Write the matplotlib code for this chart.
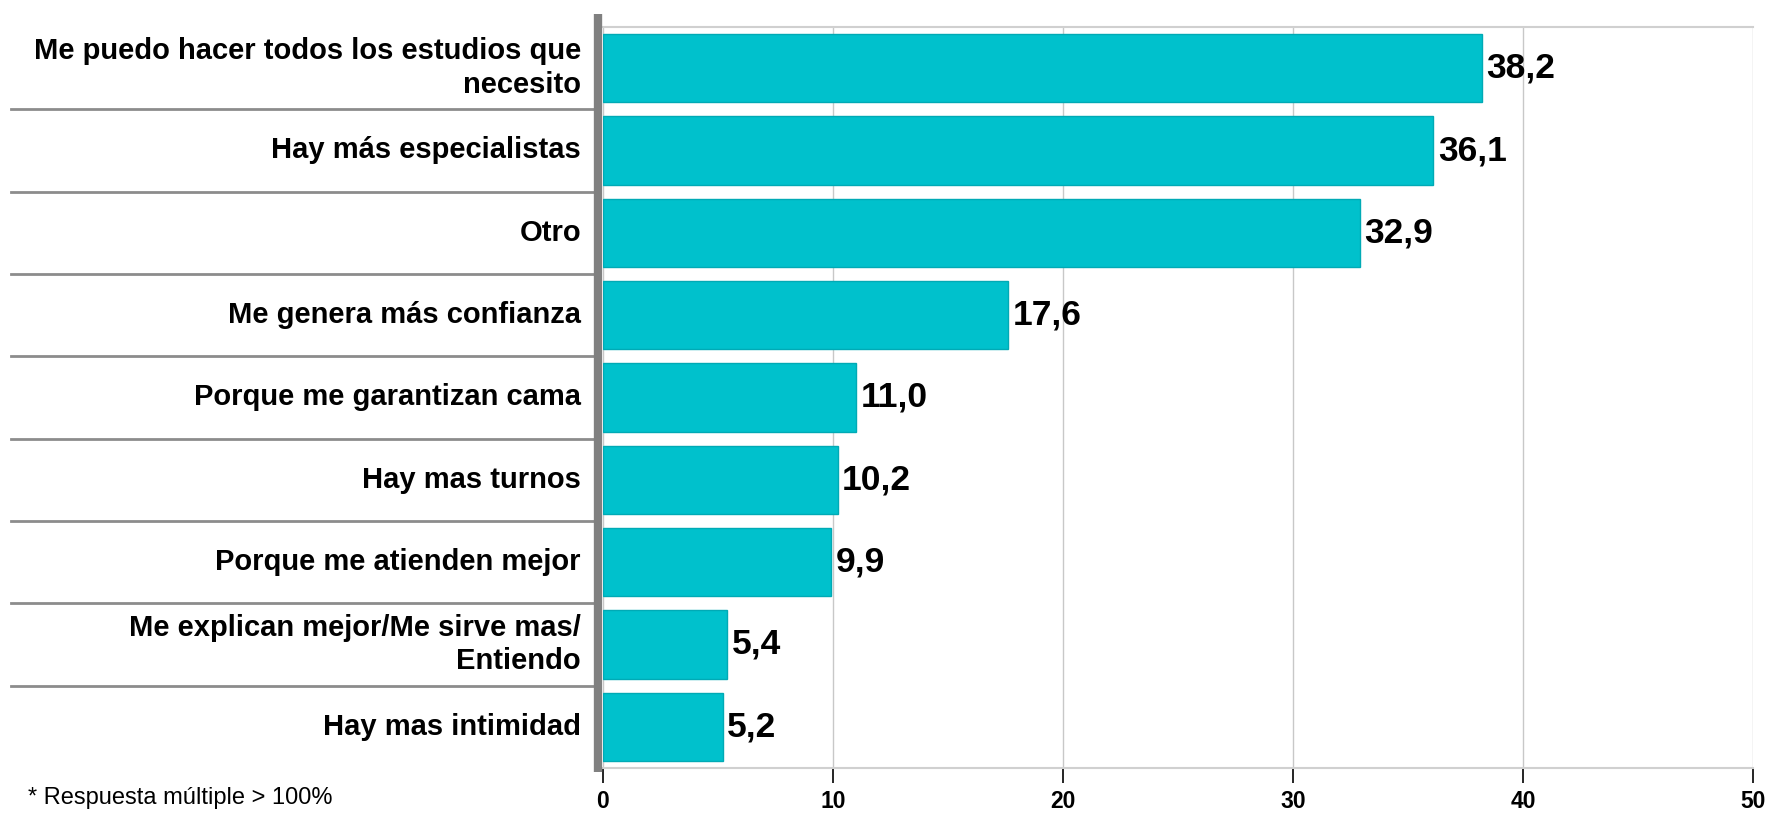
import matplotlib.pyplot as plt
from matplotlib.transforms import blended_transform_factory

plt.rcParams['font.family'] = ['Liberation Sans', 'DejaVu Sans']

categorias = [
    'Me puedo hacer todos los estudios que\nnecesito',
    'Hay más especialistas',
    'Otro',
    'Me genera más confianza',
    'Porque me garantizan cama',
    'Hay mas turnos',
    'Porque me atienden mejor',
    'Me explican mejor/Me sirve mas/\nEntiendo',
    'Hay mas intimidad',
]
valores = [38.2, 36.1, 32.9, 17.6, 11.0, 10.2, 9.9, 5.4, 5.2]
ticks_x = [0, 10, 20, 30, 40, 50]

fig = plt.figure(figsize=(17.74, 8.16), dpi=100)
ax = fig.add_axes([603 / 1774, 48 / 816, 1150 / 1774, 741 / 816])

y = list(range(len(categorias)))
ax.barh(y, valores, height=0.83, color='#00c1cc', edgecolor='#00aab5', linewidth=1, zorder=3)

for yi, v in zip(y, valores):
    ax.text(v + 0.2, yi, f'{v:.1f}'.replace('.', ','), va='center', ha='left',
            fontsize=25.5, fontweight='bold', color='black', zorder=4)

ax.set_xlim(0, 50)
ax.set_ylim(len(categorias) - 0.5, -0.5)
ax.set_xticks(ticks_x)
ax.set_xticklabels([str(t) for t in ticks_x], fontsize=16.5, fontweight='bold')
ax.tick_params(axis='x', length=11, width=1.2, color='black', pad=5)
ax.set_yticks([])
ax.grid(axis='x', color='#c8c8c8', linewidth=1, zorder=0)

for s in ['top', 'bottom', 'right']:
    ax.spines[s].set_color('#d0d0d0')
    ax.spines[s].set_linewidth(1.5)
ax.spines['right'].set_visible(False)
ax.spines['left'].set_visible(False)

# eje izquierdo grueso
trans_ax = ax.transAxes
ax.plot([-0.004, -0.004], [-0.005, 1.018], transform=trans_ax, color='#808080',
        linewidth=6, clip_on=False, solid_capstyle='butt', zorder=5)

# etiquetas y separadores a la izquierda
trans = blended_transform_factory(fig.transFigure, ax.transData)
for yi, cat in zip(y, categorias):
    ax.text(581 / 1774, yi, cat, transform=trans, ha='right', va='center',
            fontsize=21, fontweight='bold', linespacing=1.25)
for yi in y[:-1]:
    ax.plot([11 / 1774, 596 / 1774], [yi + 0.5, yi + 0.5], transform=trans,
            color='#8c8c8c', linewidth=2, clip_on=False)

fig.text(28 / 1774, 18 / 816, '* Respuesta múltiple > 100%', fontsize=17, va='center')

fig.savefig('out.png', dpi=100, facecolor='white')
